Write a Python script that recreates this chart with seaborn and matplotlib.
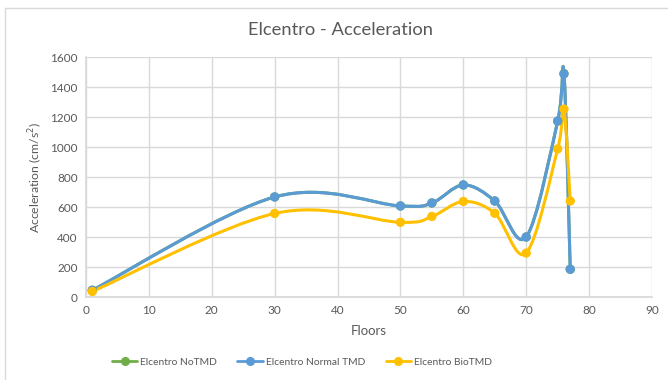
import numpy as np
import pandas as pd
import matplotlib
matplotlib.use("Agg")
import matplotlib.pyplot as plt
from matplotlib.path import Path
from matplotlib.patches import PathPatch, Rectangle
from matplotlib.lines import Line2D
import seaborn as sns

# ---- data ----
floors = [1, 30, 50, 55, 60, 65, 70, 75, 76, 77]
no_tmd = [45, 667, 607, 627, 747, 640, 400, 1173, 1490, 185]
normal_tmd = [45, 667, 607, 627, 747, 640, 400, 1173, 1487, 185]
bio_tmd = [37, 557, 498, 537, 637, 558, 293, 987, 1253, 640]

series_names = ["Elcentro NoTMD", "Elcentro Normal TMD", "Elcentro BioTMD"]
series_values = [no_tmd, normal_tmd, bio_tmd]
colors = ["#70AD47", "#5B9BD5", "#FFC000"]

x_ticks = list(range(0, 91, 10))
y_ticks = list(range(0, 1601, 200))

df = pd.concat(
    [pd.DataFrame({"Floors": floors, "Acceleration": v, "Series": n})
     for n, v in zip(series_names, series_values)],
    ignore_index=True,
)

sns.set_theme(style="white")
plt.rcParams["font.family"] = ["Lato", "DejaVu Sans"]
text_color = "#595959"
grid_color = "#D9D9D9"

fig = plt.figure(figsize=(6.68, 3.80), dpi=100)
ax = fig.add_axes([86 / 668, 1 - 297 / 380, (652 - 86) / 668, (297 - 57) / 380])

# chart border
fig.patches.append(Rectangle((5 / 668, -0.1), 1.2, 1 - 8 / 380 + 0.1,
                             transform=fig.transFigure, fill=False,
                             edgecolor="#D9D9D9", linewidth=1.0))


def smooth_path(xs, ys):
    """Cardinal Bezier smoothing between consecutive points."""
    pts = np.column_stack([xs, ys]).astype(float)
    n = len(pts)
    verts = [pts[0]]
    codes = [Path.MOVETO]
    for i in range(n - 1):
        p0 = pts[i - 1] if i > 0 else pts[i]
        p1 = pts[i]
        p2 = pts[i + 1]
        p3 = pts[i + 2] if i + 2 < n else pts[i + 1]
        c1 = p1 + (p2 - p0) / 6.0
        c2 = p2 - (p3 - p1) / 6.0
        verts += [c1, c2, p2]
        codes += [Path.CURVE4] * 3
    return Path(verts, codes)


for name, color in zip(series_names, colors):
    sub = df[df["Series"] == name]
    ax.add_patch(PathPatch(smooth_path(sub["Floors"], sub["Acceleration"]),
                           facecolor="none", edgecolor=color, linewidth=2.2,
                           capstyle="round", joinstyle="round", zorder=3))

sns.scatterplot(data=df, x="Floors", y="Acceleration", hue="Series",
                palette=dict(zip(series_names, colors)), s=45,
                edgecolor="none", legend=False, ax=ax, zorder=4)

ax.set_xlim(0, 90)
ax.set_ylim(0, 1600)
ax.set_xticks(x_ticks)
ax.set_yticks(y_ticks)
ax.grid(True, color=grid_color, linewidth=1.0)
ax.set_axisbelow(True)
for s in ["top", "right"]:
    ax.spines[s].set_visible(False)
ax.spines["left"].set_color(grid_color)
ax.spines["bottom"].set_color(grid_color)
ax.tick_params(axis="both", labelsize=8.5, colors=text_color, length=0, pad=6)
ax.set_xlabel("Floors", fontsize=9.5, color=text_color, labelpad=6)
ax.set_ylabel("Acceleration (cm/s$^2$)", fontsize=8.8, color=text_color, labelpad=4)

fig.text(340 / 668, 1 - 30 / 380, "Elcentro - Acceleration", ha="center",
         va="center", fontsize=13.2, color=text_color)

handles = [Line2D([0], [0], color=c, linewidth=2.0, marker="o", markersize=5.5)
           for c in colors]
fig.legend(handles, series_names, loc="center", bbox_to_anchor=(302 / 668, 1 - 362 / 380),
           ncol=3, frameon=False, fontsize=7.4, labelcolor=text_color,
           handlelength=2.5, handletextpad=0.3, columnspacing=1.95)

fig.savefig("out.png", dpi=100)
